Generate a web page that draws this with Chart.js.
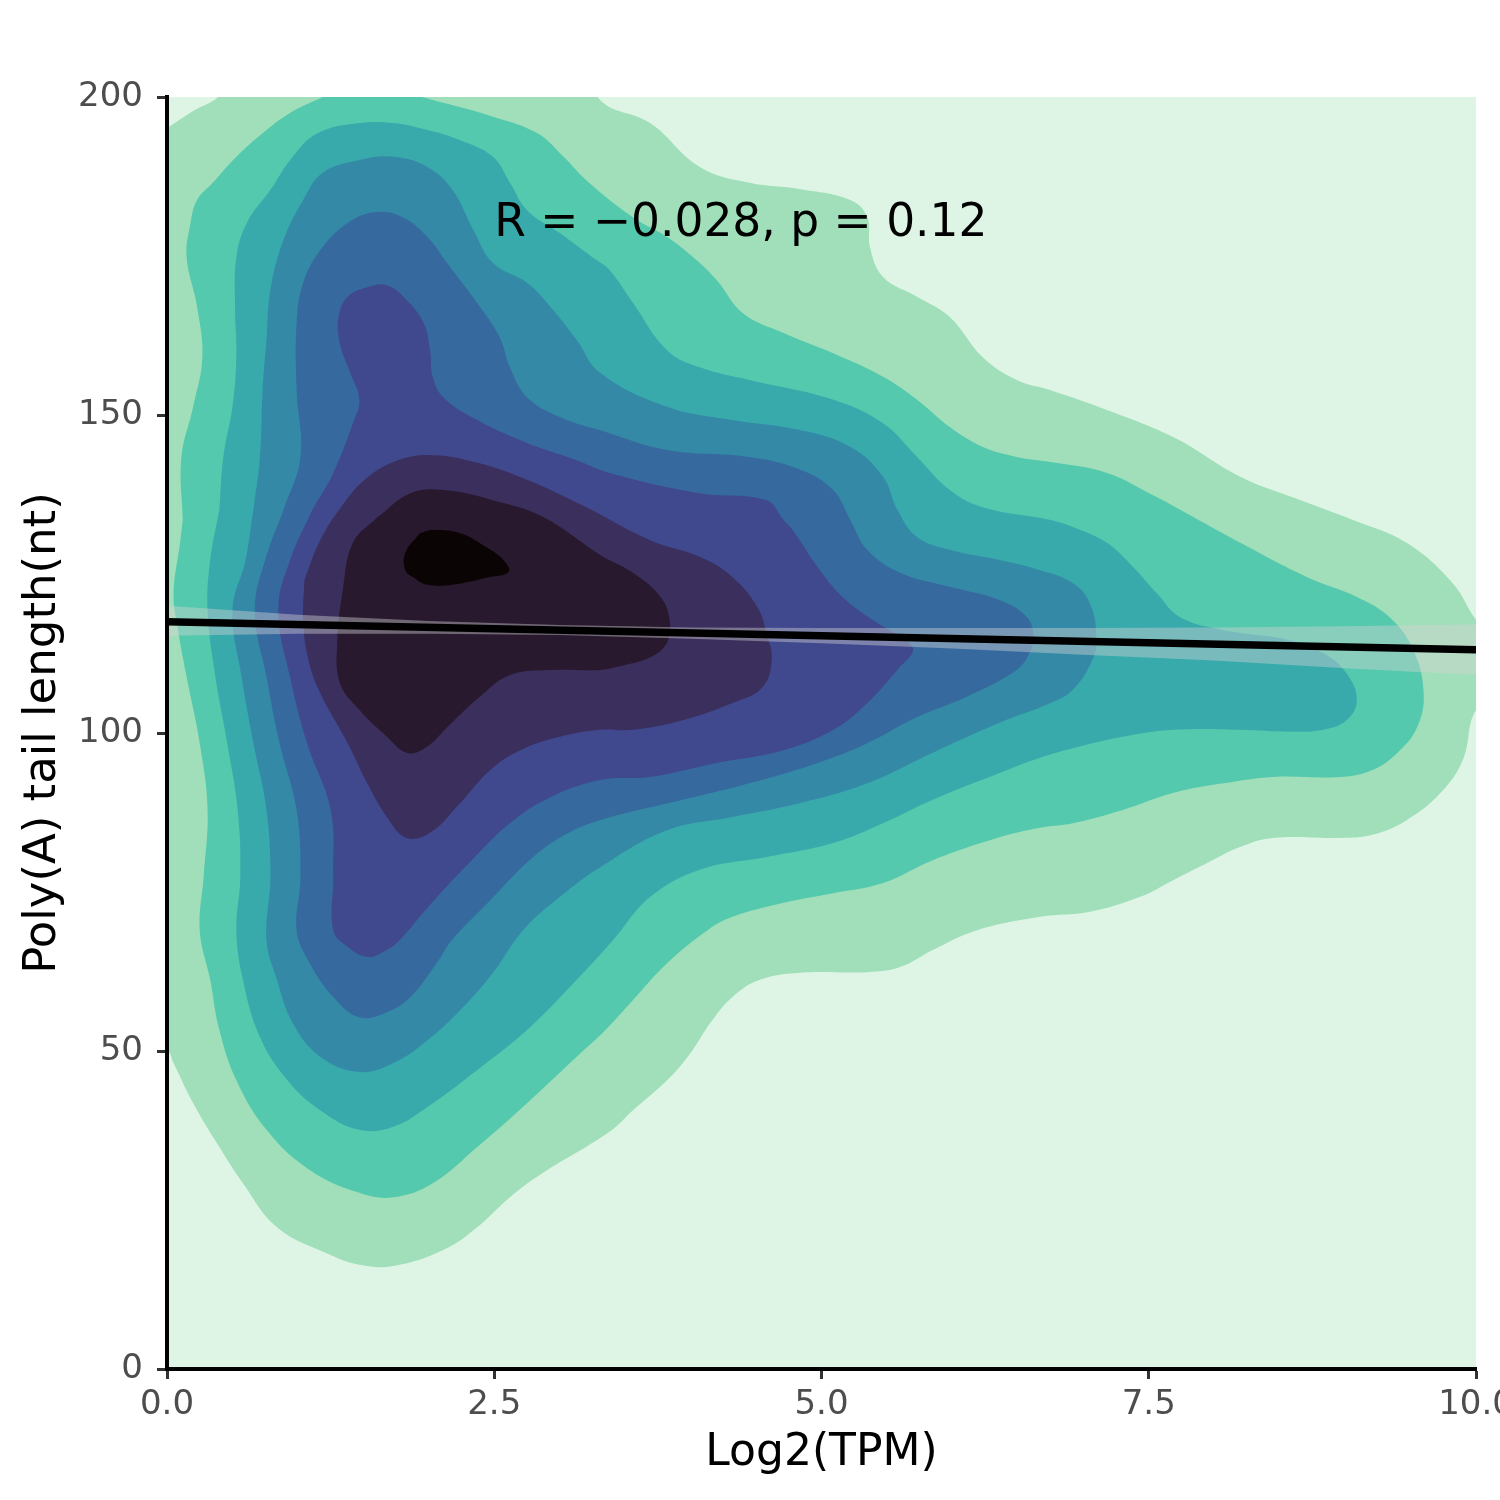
<!DOCTYPE html>
<html>
<head>
<meta charset="utf-8">
<title>Poly(A) tail length vs Log2(TPM)</title>
<script src="https://cdn.jsdelivr.net/npm/chart.js@4.4.1/dist/chart.umd.min.js"></script>
<style>
  body { margin: 0; background: #ffffff; }
  canvas { display: block; }
</style>
</head>
<body>
<canvas id="densityChart" width="1500" height="1500"></canvas>
<script>
// density contour bands as [log2 TPM, tail length] points
// level 1 is the outermost band, level 9 the densest core
const contour1 = [[0.0,195.1],[0.2,197.8],[0.4,200.2],[0.5,204],[1.5,206],[3.2,206],[3.31,199.5],[3.69,195.9],[4.07,189.0],[4.45,186.5],[4.84,185.5],[5.22,183.8],[5.35,181.1],[5.37,176.4],[5.47,171.7],[5.73,168.6],[5.98,165.4],[6.23,159.1],[6.49,155.5],[6.75,153.9],[7.18,150.8],[7.69,146.5],[8.20,140.3],[8.66,136.6],[9.06,133.5],[9.47,129.9],[9.82,123.6],[10.0,117.8],[10.2,113],[10.2,106],[10.0,103.6],[9.90,95.8],[9.73,90.6],[9.47,86.3],[9.21,84.0],[8.96,83.5],[8.45,83.5],[8.20,82.1],[7.95,79.6],[7.69,76.9],[7.43,74.2],[7.05,71.9],[6.67,71.1],[6.19,69.0],[5.85,65.9],[5.60,63.2],[5.35,62.4],[4.84,62.3],[4.53,61.2],[4.32,58.5],[4.15,54.4],[4.00,49.7],[3.82,45.4],[3.56,40.7],[3.38,37.3],[2.87,30.8],[2.62,27.0],[2.37,22.3],[2.11,18.7],[1.73,16.2],[1.47,16.4],[1.22,18.2],[0.84,22.3],[0.58,29.2],[0.40,34.9],[0.20,41.8],[0.05,48.1],[0.0,50.2],[-0.2,52],[-0.2,192]];
const contour2 = [[0.12,133.5],[0.11,143.4],[0.20,151.3],[0.27,159.1],[0.23,167.0],[0.15,174.8],[0.18,180.2],[0.23,183.8],[0.35,186.5],[0.53,190.6],[0.73,194.3],[0.94,197.5],[1.15,199.6],[1.32,201],[1.70,201],[2.11,199.1],[2.49,196.9],[2.83,194.3],[3.03,190.6],[3.22,186.6],[3.56,181.1],[3.82,178.0],[4.02,174.8],[4.20,171.2],[4.40,166.0],[4.71,162.9],[5.09,159.7],[5.47,156.0],[5.73,152.4],[5.98,148.1],[6.23,145.0],[6.49,143.4],[6.75,142.6],[7.18,140.9],[7.56,137.1],[7.74,135.1],[8.20,129.9],[8.71,124.5],[9.09,121.4],[9.34,118.2],[9.52,113.1],[9.60,106.3],[9.55,100.9],[9.40,96.9],[9.21,94.2],[8.96,93.1],[8.45,93.1],[8.07,92.1],[7.69,90.6],[7.30,87.9],[6.92,85.8],[6.67,85.1],[6.36,83.6],[5.85,80.0],[5.47,76.4],[5.09,74.8],[4.71,73.3],[4.32,71.1],[4.13,69.0],[3.82,63.8],[3.56,58.0],[3.35,53.3],[3.13,49.1],[2.75,41.8],[2.37,34.9],[2.03,29.2],[1.73,27.0],[1.47,27.7],[1.09,31.3],[0.76,37.6],[0.53,45.4],[0.40,53.3],[0.33,61.2],[0.25,69.0],[0.28,77.4],[0.31,87.9],[0.25,98.4],[0.15,108.8],[0.08,116.7],[0.05,122.0],[0.10,129.9]];
const contour3 = [[0.40,135.1],[0.43,143.4],[0.50,151.3],[0.53,159.1],[0.52,167.0],[0.53,174.8],[0.61,180.2],[0.79,185.4],[0.96,190.6],[1.15,194.3],[1.47,195.9],[1.73,195.9],[1.99,194.8],[2.24,193.2],[2.49,190.6],[2.62,186.5],[2.75,182.2],[3.00,178.6],[3.25,174.8],[3.38,172.8],[3.56,167.6],[3.82,160.2],[4.07,157.5],[4.45,155.5],[5.09,152.4],[5.47,148.7],[5.73,143.4],[5.98,138.2],[6.23,135.5],[6.75,133.5],[6.92,132.4],[7.18,129.9],[7.38,126.1],[7.56,122.0],[7.74,118.2],[8.07,116.2],[8.58,114.6],[8.83,112.6],[9.01,109.4],[9.09,105.2],[9.01,102.0],[8.83,100.5],[8.58,100.2],[8.20,100.5],[7.69,100.5],[7.30,99.4],[6.92,97.6],[6.67,96.1],[6.36,93.7],[5.85,89.5],[5.47,85.8],[5.09,82.7],[4.58,80.5],[4.07,78.5],[3.69,74.2],[3.41,67.5],[3.13,61.2],[2.75,53.3],[2.37,47.0],[1.99,41.2],[1.73,38.1],[1.47,37.6],[1.17,40.7],[0.92,45.4],[0.71,52.2],[0.58,61.2],[0.53,69.0],[0.56,77.4],[0.54,87.9],[0.46,98.4],[0.37,108.8],[0.31,119.3],[0.33,127.2]];
const contour4 = [[0.66,135.1],[0.60,127.2],[0.50,119.3],[0.57,108.8],[0.66,98.4],[0.76,87.9],[0.79,77.4],[0.76,67.5],[0.84,61.2],[0.96,54.4],[1.17,49.1],[1.47,46.7],[1.73,48.1],[1.99,51.7],[2.24,56.4],[2.49,62.3],[2.72,69.0],[3.00,74.2],[3.31,78.9],[3.82,84.7],[4.32,86.8],[4.84,89.0],[5.35,92.1],[5.85,96.9],[6.36,101.6],[6.75,104.7],[6.92,106.8],[7.07,111.5],[7.10,115.1],[7.05,120.4],[6.92,123.6],[6.67,125.6],[6.36,127.2],[5.98,128.8],[5.73,130.8],[5.58,135.1],[5.47,140.3],[5.22,145.0],[4.84,147.6],[4.32,149.2],[3.82,151.3],[3.31,156.6],[3.13,161.8],[2.93,167.0],[2.75,170.8],[2.49,173.9],[2.34,179.1],[2.18,185.4],[1.99,189.0],[1.73,190.6],[1.47,190.1],[1.19,188.1],[1.04,183.8],[0.89,177.5],[0.79,169.7],[0.76,161.8],[0.73,153.9],[0.71,143.4]];
const contour5 = [[0.89,135.1],[1.02,143.4],[0.99,153.9],[0.99,164.5],[1.04,170.8],[1.17,175.9],[1.38,180.2],[1.60,181.9],[1.80,181.1],[1.99,178.0],[2.14,173.9],[2.37,167.6],[2.54,162.3],[2.62,157.5],[2.75,152.8],[3.00,149.7],[3.31,147.6],[3.82,144.5],[4.45,143.4],[4.84,141.4],[5.09,138.2],[5.22,133.5],[5.35,128.8],[5.60,125.2],[5.98,123.0],[6.36,120.9],[6.57,118.2],[6.62,115.1],[6.59,112.6],[6.49,109.9],[6.11,105.7],[5.73,102.5],[5.35,98.4],[4.97,95.3],[4.45,92.1],[3.94,89.5],[3.31,86.3],[3.04,84.0],[2.77,80.0],[2.47,73.7],[2.18,67.5],[2.06,63.8],[1.86,58.5],[1.68,56.1],[1.47,55.3],[1.27,58.5],[1.09,63.8],[0.99,69.0],[1.02,77.4],[0.99,87.9],[0.86,98.4],[0.76,108.8],[0.67,119.3],[0.75,127.2]];
const contour6 = [[1.11,135.1],[1.27,140.9],[1.42,148.7],[1.47,152.4],[1.40,156.6],[1.32,161.3],[1.31,165.4],[1.38,168.6],[1.53,170.1],[1.68,170.4],[1.83,168.1],[1.96,164.5],[2.01,160.2],[2.03,156.0],[2.11,152.8],[2.37,149.2],[2.75,145.6],[3.13,142.9],[3.38,140.9],[4.07,137.7],[4.58,136.6],[4.71,133.5],[4.78,131.9],[4.97,126.1],[5.16,121.4],[5.39,117.8],[5.60,115.1],[5.70,113.1],[5.60,110.4],[5.35,104.7],[5.09,100.5],[4.71,97.3],[4.20,95.3],[3.69,93.1],[3.31,92.6],[2.93,89.9],[2.62,85.8],[2.31,79.6],[2.01,73.0],[1.78,67.5],[1.68,65.9],[1.53,64.8],[1.38,66.4],[1.27,69.0],[1.27,77.4],[1.25,87.9],[1.07,98.4],[0.94,108.8],[0.85,119.3],[0.94,127.2]];
const contour7 = [[1.05,124.1],[1.17,130.3],[1.34,135.8],[1.51,139.8],[1.73,142.6],[1.99,143.7],[2.37,142.5],[2.75,139.8],[3.21,135.4],[3.69,130.3],[4.07,127.7],[4.32,124.5],[4.51,119.8],[4.58,115.7],[4.62,111.5],[4.55,107.2],[4.32,104.7],[3.94,102.0],[3.56,100.5],[3.31,100.5],[3.00,99.4],[2.70,97.3],[2.47,94.2],[2.24,89.0],[2.01,84.3],[1.83,83.5],[1.68,86.8],[1.53,92.1],[1.38,98.4],[1.17,106.3],[1.08,111.5],[1.04,117.8]];
const contour8 = [[1.60,133.8],[1.86,137.7],[2.11,138.2],[2.49,136.6],[2.87,134.0],[3.31,128.0],[3.56,125.2],[3.77,121.4],[3.84,117.8],[3.82,114.2],[3.69,111.9],[3.44,110.4],[3.31,109.9],[2.93,109.9],[2.62,109.1],[2.39,105.7],[2.16,101.3],[1.97,97.6],[1.83,96.9],[1.68,99.4],[1.47,103.6],[1.32,107.9],[1.30,114.2],[1.34,122.0],[1.42,129.9]];
const contour9 = [[1.93,131.4],[2.03,131.9],[2.24,131.4],[2.44,129.2],[2.57,127.2],[2.61,125.3],[2.44,124.4],[2.18,123.3],[1.99,123.3],[1.88,124.5],[1.82,125.6],[1.82,128.3]];

// linear fit and its confidence band
const fitX = [0, 10];
const fitY = [117.5, 113.1];
const bandX = [0, 1, 2, 3, 4, 5, 6, 7, 8, 9, 10];
const bandUpper = [120.0, 118.6, 117.6, 117.0, 116.6, 116.5, 116.5, 116.5, 116.6, 116.8, 117.1];
const bandLower = [115.3, 115.6, 115.6, 115.4, 114.8, 114.1, 113.3, 112.3, 111.4, 110.2, 109.1];

const xTicks = [0, 2.5, 5, 7.5, 10];
const yTicks = [0, 50, 100, 150, 200];

const corText = "R = \u22120.028, p = 0.12";
const corAt = [2.5, 178.1];

// mako palette, outer band first
const bandColors = ["#A0DFB9", "#54C9AD", "#38AAAC", "#348AA6", "#366A9F", "#40498E", "#3B2F5E", "#28192F", "#0B0405"];
const plotBg = "#DEF5E5";

const contours = [contour1, contour2, contour3, contour4, contour5, contour6, contour7, contour8, contour9];

const toPoints = (xs, ys) => xs.map((x, i) => ({x: x, y: ys[i]}));

const contourSets = contours.map((c, i) => ({
  label: "level " + (i + 1),
  data: c.concat([c[0]]).map(p => ({x: p[0], y: p[1]})),
  showLine: true,
  fill: "shape",
  backgroundColor: bandColors[i],
  borderColor: bandColors[i],
  borderWidth: 0,
  pointRadius: 0,
  tension: 0.4,
  capBezierPoints: false,
  order: 50 - i,
}));

const bandTopIndex = contourSets.length;

const plotBackground = {
  id: "plotBackground",
  beforeDatasetsDraw(chart) {
    const {ctx, chartArea} = chart;
    ctx.save();
    ctx.fillStyle = plotBg;
    ctx.fillRect(chartArea.left, chartArea.top, chartArea.right - chartArea.left, chartArea.bottom - chartArea.top);
    ctx.restore();
  },
};

const corLabel = {
  id: "corLabel",
  afterDatasetsDraw(chart) {
    const {ctx, scales} = chart;
    ctx.save();
    ctx.font = '45.5px "DejaVu Sans"';
    ctx.fillStyle = "#000000";
    ctx.textAlign = "left";
    ctx.textBaseline = "alphabetic";
    ctx.fillText(corText, scales.x.getPixelForValue(corAt[0]), scales.y.getPixelForValue(corAt[1]));
    ctx.restore();
  },
};

const axisFont = {family: "DejaVu Sans", size: 34};

const ctx = document.getElementById("densityChart").getContext("2d");
new Chart(ctx, {
  type: "scatter",
  data: {
    datasets: contourSets.concat([
      {
        label: "band top",
        data: toPoints(bandX, bandUpper),
        showLine: true,
        borderWidth: 0,
        pointRadius: 0,
        fill: false,
        order: 3,
      },
      {
        label: "band bottom",
        data: toPoints(bandX, bandLower),
        showLine: true,
        borderWidth: 0,
        pointRadius: 0,
        fill: bandTopIndex,
        backgroundColor: "rgba(211,211,211,0.42)",
        order: 2,
      },
      {
        label: "fit",
        data: toPoints(fitX, fitY),
        showLine: true,
        borderColor: "#000000",
        borderWidth: 7.5,
        pointRadius: 0,
        fill: false,
        order: 1,
      },
    ]),
  },
  options: {
    responsive: false,
    animation: false,
    layout: {
      padding: {top: 97, right: 24, bottom: 0, left: 0},
    },
    plugins: {
      legend: {display: false},
      tooltip: {enabled: false},
    },
    scales: {
      x: {
        type: "linear",
        min: 0,
        max: 10,
        afterBuildTicks: (s) => { s.ticks = xTicks.map(v => ({value: v})); },
        afterFit: (s) => { s.height = 131; s.paddingRight = 0; },
        border: {display: true, color: "#000000", width: 4, z: 2},
        grid: {display: true, drawOnChartArea: false, drawTicks: true, tickLength: 10, tickColor: "#333333", tickWidth: 3, z: 2},
        ticks: {
          maxRotation: 0,
          padding: 6,
          color: "#4D4D4D",
          font: axisFont,
          z: 2,
          callback: (v) => Number(v).toFixed(1),
        },
        title: {
          display: true,
          text: "Log2(TPM)",
          color: "#000000",
          font: {family: "DejaVu Sans", size: 44},
          padding: {top: 0, bottom: 20},
        },
      },
      y: {
        type: "linear",
        min: 0,
        max: 200,
        afterBuildTicks: (s) => { s.ticks = yTicks.map(v => ({value: v})); },
        afterFit: (s) => { s.width = 167; s.paddingTop = 0; s.paddingBottom = 0; },
        border: {display: true, color: "#000000", width: 4, z: 2},
        grid: {display: true, drawOnChartArea: false, drawTicks: true, tickLength: 10, tickColor: "#333333", tickWidth: 3, z: 2},
        ticks: {
          padding: 14,
          color: "#4D4D4D",
          font: axisFont,
          z: 2,
        },
        title: {
          display: true,
          text: "Poly(A) tail length(nt)",
          color: "#000000",
          font: {family: "DejaVu Sans", size: 45},
          padding: {top: 16, bottom: 0},
        },
      },
    },
  },
  plugins: [plotBackground, corLabel],
});
</script>
</body>
</html>
